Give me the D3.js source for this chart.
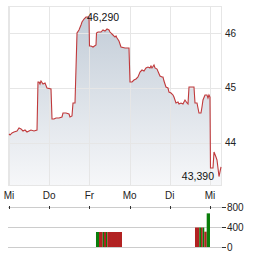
<!DOCTYPE html>
<html><head><meta charset="utf-8">
<script src="https://cdn.jsdelivr.net/npm/d3@7"></script>
<style>html,body{margin:0;padding:0;background:#fff;}svg{display:block;font-family:"Liberation Sans",Arial,sans-serif;}</style>
</head><body><svg id="c" width="264" height="255"></svg>
<script>
// time in trading-day units (0 = first "Mi")
const dayLabels = ["Mi","Do","Fr","Mo","Di","Mi"];
const priceTicks = [44,45,46];
const volTicks = [0,400,800];
const priceT = [0,0.025,0.075,0.124,0.199,0.249,0.299,0.348,0.398,0.448,0.498,0.547,0.622,0.697,0.721,0.746,0.771,0.796,0.846,0.896,0.945,1.045,1.070,1.119,1.169,1.244,1.318,1.343,1.418,1.493,1.517,1.567,1.592,1.642,1.692,1.741,1.791,1.816,1.866,1.915,1.99,2.002,2.040,2.090,2.164,2.177,2.214,2.289,2.338,2.388,2.438,2.488,2.512,2.587,2.637,2.662,2.687,2.736,2.786,2.886,2.985,3.01,3.06,3.109,3.159,3.209,3.259,3.308,3.358,3.408,3.458,3.507,3.532,3.557,3.607,3.632,3.682,3.756,3.806,3.831,3.856,3.905,3.955,3.98,4.03,4.08,4.104,4.154,4.204,4.229,4.279,4.328,4.378,4.428,4.453,4.478,4.602,4.627,4.677,4.726,4.776,4.801,4.826,4.876,4.925,4.95,4.975,5.0,5.012,5.075,5.100,5.149,5.174,5.199,5.224,5.274];
const priceV = [44.164,44.145,44.182,44.20,44.218,44.273,44.255,44.218,44.236,44.20,44.218,44.236,44.218,44.236,45.109,45.109,45.073,45.127,45.073,45.091,45.0,44.982,44.436,44.436,44.455,44.455,44.473,44.545,44.545,44.527,44.473,44.491,44.727,44.727,46.0,46.055,46.145,46.20,46.255,46.29,46.29,45.764,45.764,45.745,45.782,46.0,46.018,46.018,46.055,46.036,46.073,46.055,46.018,45.964,45.927,45.945,45.909,45.855,45.745,45.727,45.727,45.109,45.109,45.145,45.164,45.20,45.291,45.327,45.309,45.364,45.382,45.364,45.40,45.364,45.418,45.364,45.345,45.218,45.20,45.20,45.127,45.018,45.0,44.927,44.909,44.873,44.836,44.727,44.745,44.709,44.727,44.709,44.782,44.727,44.709,45.018,45.018,44.727,44.727,44.545,44.545,44.655,44.782,44.873,44.873,44.818,44.873,44.836,43.545,43.545,43.836,43.745,43.691,43.545,43.39,43.564];
const volStart = [2.164,2.239,2.331,2.363,2.413,2.445,2.562,2.687,4.627,4.734,4.776,4.818,4.858,4.918];
const volEnd   = [2.239,2.331,2.363,2.413,2.445,2.562,2.687,2.811,4.734,4.776,4.818,4.858,4.918,5.0];
const volValue = [300,300,300,300,300,300,300,300,390,390,390,390,306,673];
const volUp    = [true,false,true,false,true,false,false,false,false,true,false,true,false,true];
const maxLabel = "46,290", minLabel = "43,390";

const svg = d3.select("#c");
const x = d3.scaleLinear().domain([0,5.274]).range([9,221]);
const y = d3.scaleLinear().domain([43.236,46.473]).range([185,7]);
const yv = d3.scaleLinear().domain([0,800]).range([247,207]);
const grid = "#e6e6e6";

const defs = svg.append("defs");
const g = defs.append("linearGradient").attr("id","fillg").attr("x1",0).attr("y1",0).attr("x2",0).attr("y2",1);
g.append("stop").attr("offset","0%").attr("stop-color","#c3cdd8");
g.append("stop").attr("offset","100%").attr("stop-color","#f6f7f9");

const data = priceT.map((t,i)=>({t, v:priceV[i]}));
// area
svg.append("path").datum(data)
  .attr("d", d3.area().x(d=>x(d.t)).y0(185).y1(d=>y(d.v)))
  .attr("fill","url(#fillg)");
// grid
svg.append("g").selectAll("line").data(priceTicks).join("line")
  .attr("x1",9).attr("x2",221).attr("y1",d=>Math.round(y(d))+0.5).attr("y2",d=>Math.round(y(d))+0.5)
  .attr("stroke",grid);
svg.append("g").selectAll("line").data(dayLabels).join("line")
  .attr("x1",(d,i)=>Math.round(x(i))+0.5).attr("x2",(d,i)=>Math.round(x(i))+0.5).attr("y1",7).attr("y2",185)
  .attr("stroke",grid);
svg.append("rect").attr("x",8.5).attr("y",6.5).attr("width",213).attr("height",179)
  .attr("fill","none").attr("stroke",grid);
// line
svg.append("path").datum(data)
  .attr("d", d3.line().x(d=>x(d.t)).y(d=>y(d.v)))
  .attr("fill","none").attr("stroke","#c0393b").attr("stroke-width",1.1);

// y labels
svg.append("g").selectAll("text").data(priceTicks).join("text")
  .attr("x",225).attr("y",d=>y(d)).attr("dy","0.35em").attr("font-size",10).attr("fill","#222").text(d=>d);
// x labels
svg.append("g").selectAll("text").data(dayLabels).join("text")
  .attr("x",(d,i)=>x(i)).attr("y",195).attr("dy","0.35em").attr("text-anchor","middle")
  .attr("font-size",10).attr("fill","#222").text(d=>d);

// max/min labels
const iMax = d3.maxIndex(priceV), iMin = d3.minIndex(priceV);
svg.append("text").attr("x",x(priceT[iMax])+1).attr("y",y(priceV[iMax])).attr("dy","0.35em")
  .attr("font-size",10.5).attr("fill","#111").text(maxLabel);
svg.append("text").attr("x",x(priceT[iMin])-5).attr("y",y(priceV[iMin])).attr("dy","0.35em")
  .attr("text-anchor","end").attr("font-size",10.5).attr("fill","#111").text(minLabel);

// volume panel
svg.append("g").selectAll("line").data(volTicks).join("line")
  .attr("x1",8).attr("x2",226).attr("y1",d=>Math.round(yv(d))+0.5).attr("y2",d=>Math.round(yv(d))+0.5)
  .attr("stroke","#ccc");
svg.append("g").selectAll("line").data(volTicks).join("line")
  .attr("x1",222).attr("x2",226).attr("y1",d=>Math.round(yv(d))+0.5).attr("y2",d=>Math.round(yv(d))+0.5)
  .attr("stroke","#333");
svg.append("g").selectAll("line").data(dayLabels).join("line")
  .attr("x1",(d,i)=>Math.round(x(i))+0.5).attr("x2",(d,i)=>Math.round(x(i))+0.5).attr("y1",206).attr("y2",209)
  .attr("stroke","#333");
svg.append("g").selectAll("rect").data(volValue).join("rect")
  .attr("x",(d,i)=>x(volStart[i])).attr("width",(d,i)=>x(volEnd[i])-x(volStart[i]))
  .attr("y",d=>yv(d)).attr("height",d=>yv(0)-yv(d))
  .attr("fill",(d,i)=>volUp[i]?"#0a7d0a":"#b22222");
svg.append("g").selectAll("text").data(volTicks).join("text")
  .attr("x",227).attr("y",d=>yv(d)).attr("dy","0.35em").attr("font-size",10).attr("fill","#222").text(d=>d);
</script></body></html>
